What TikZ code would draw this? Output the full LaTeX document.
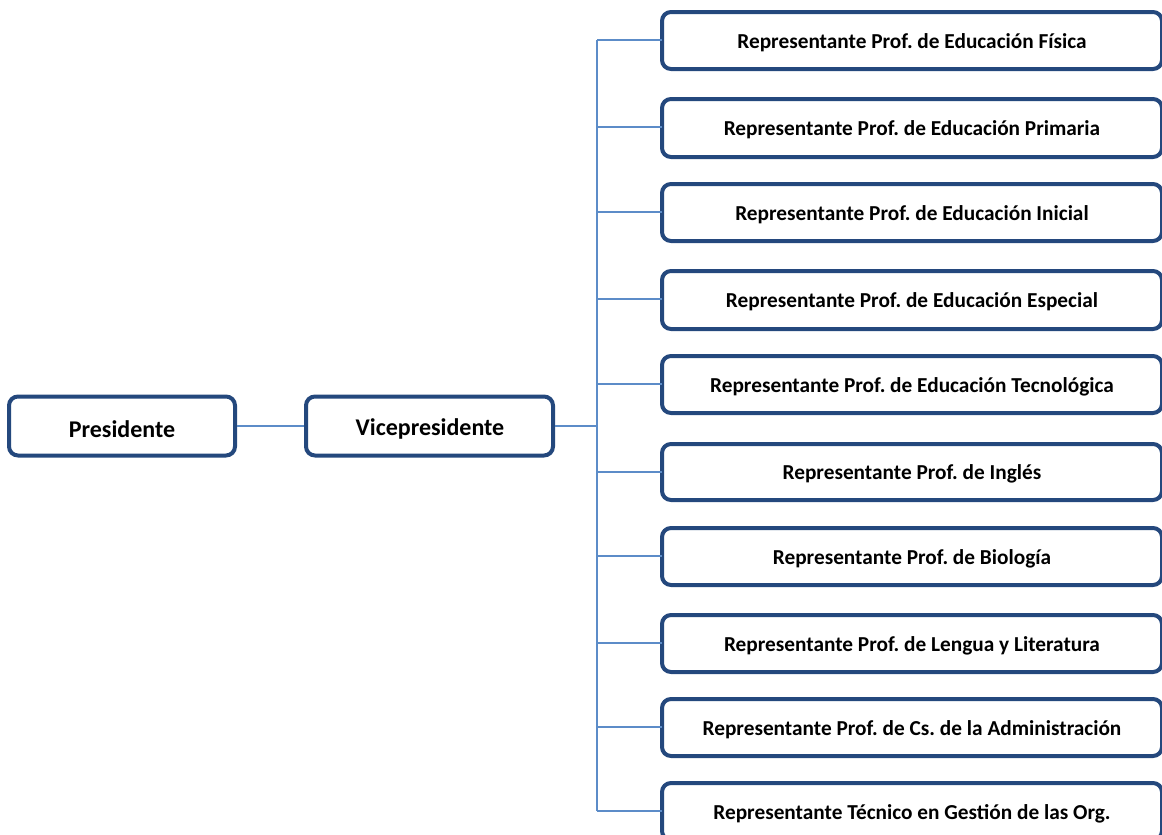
\documentclass[tikz,border=0pt]{standalone}
\usepackage{fontspec}
\setmainfont{Carlito}
\frenchspacing
\definecolor{boxblue}{RGB}{36,72,125}
\definecolor{lineblue}{RGB}{92,140,200}
\begin{document}
\begin{tikzpicture}[x=1pt,y=-1pt,
  box/.style={draw=boxblue,line width=4pt,rounded corners=9pt,fill=white,inner sep=0pt,font=\bfseries},
  conn/.style={draw=lineblue,line width=1.6pt}]
\useasboundingbox (0,0) rectangle (1162,835);
\clip (0,0) rectangle (1162,835);
\node[box,minimum width=226pt,minimum height=59pt] (pres) at (122,426) {};
\node[font=\bfseries\fontsize{24}{28}\selectfont] at (122,429) {\frenchspacing Presidente};
\node[box,minimum width=247pt,minimum height=59pt] (vice) at (429.5,426) {};
\node[font=\bfseries\fontsize{24}{28}\selectfont] at (430,429) {Vicepresidente};
\coordinate (bus) at (597,426);
\draw[conn] (pres.east) -- (vice.west);
\draw[conn] (vice.east) -- (bus);
\foreach \i/\yt/\yb/\txt in {
 1/12/69/{Representante Prof. de Educación Física},
 2/99/157/{Representante Prof. de Educación Primaria},
 3/184/241/{Representante Prof. de Educación Inicial},
 4/271/329/{Representante Prof. de Educación Especial},
 5/356/413/{Representante Prof. de Educación Tecnológica},
 6/444/500/{Representante Prof. de Inglés},
 7/528/585/{Representante Prof. de Biología},
 8/615/672/{Representante Prof. de Lengua y Literatura},
 9/699/756/{Representante Prof. de Cs. de la Administración},
 10/783/840/{Representante Técnico en Gestión de las Org.}}{
  \draw[box] (662,\yt) rectangle (1162,\yb);
  \node[font=\bfseries\fontsize{21.3}{24}\selectfont] (r\i) at (912,{(\yt+\yb)/2+2}) {\frenchspacing\txt};
  \coordinate (e\i) at (662,{\yt+28});
  \coordinate (b\i) at (597,{\yt+28});
  \draw[conn] (b\i) -- (e\i);
}
\draw[conn] (b1) -- (b10);
\end{tikzpicture}
\end{document}
